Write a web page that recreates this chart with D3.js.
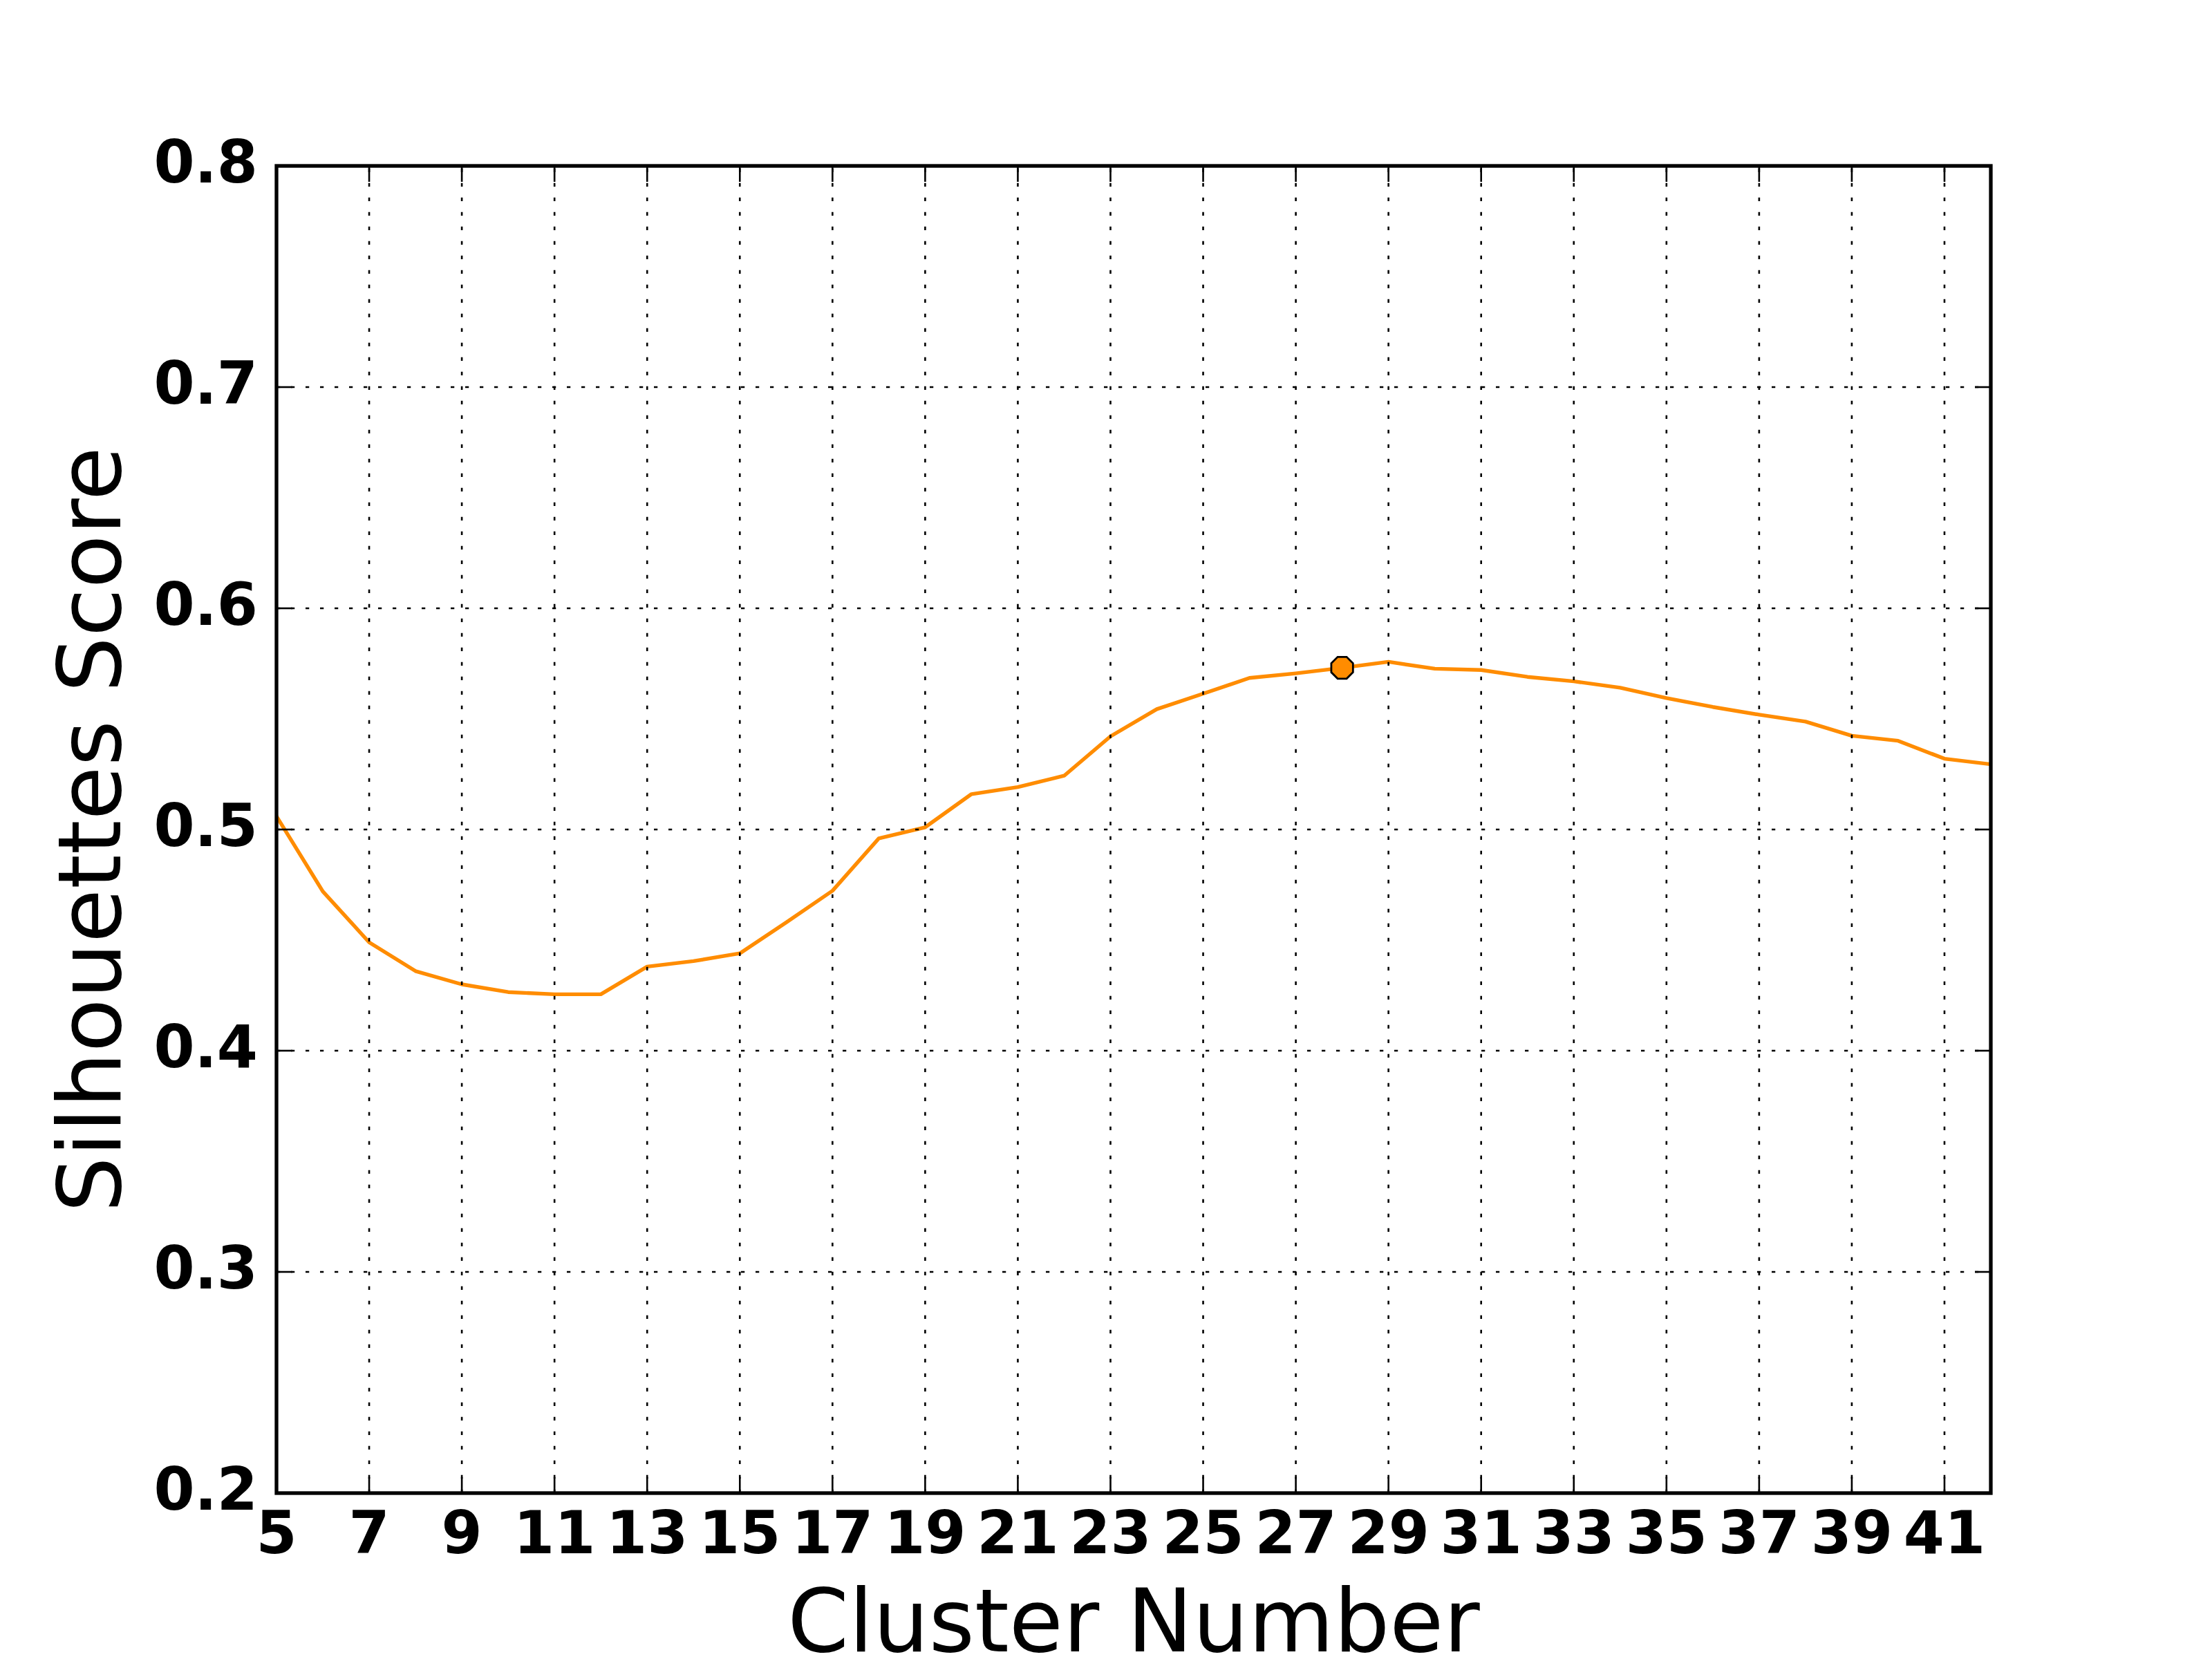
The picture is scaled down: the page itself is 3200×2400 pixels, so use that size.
<!DOCTYPE html>
<html>
<head>
<meta charset="utf-8">
<script src="https://cdn.jsdelivr.net/npm/d3@7"></script>
<style>
  html, body { margin: 0; padding: 0; background: #fff; }
  svg { display: block; }
</style>
</head>
<body>
<svg id="chart" width="3200" height="2400"></svg>
<script>
// ---- data ----
const clusters = [5, 6, 7, 8, 9, 10, 11, 12, 13, 14, 15, 16, 17, 18, 19, 20, 21, 22, 23,
                  24, 25, 26, 27, 28, 29, 30, 31, 32, 33, 34, 35, 36, 37, 38, 39, 40, 41, 42];
const scores = [0.506, 0.472, 0.449, 0.436, 0.430, 0.4265, 0.4255, 0.4255, 0.438, 0.4405,
                0.444, 0.458, 0.4723, 0.496, 0.501, 0.516, 0.5192, 0.5243, 0.5421, 0.5544,
                0.5614, 0.5685, 0.5706, 0.5731, 0.5758, 0.5727, 0.5721, 0.569, 0.567, 0.5641,
                0.5594, 0.5554, 0.5519, 0.5488, 0.5424, 0.5401, 0.532, 0.5295];
const bestCluster = [28];
const bestScore = [0.5731];
const xTicks = [5, 7, 9, 11, 13, 15, 17, 19, 21, 23, 25, 27, 29, 31, 33, 35, 37, 39, 41];
const yTicks = [0.2, 0.3, 0.4, 0.5, 0.6, 0.7, 0.8];
const yTickLabels = ["0.2", "0.3", "0.4", "0.5", "0.6", "0.7", "0.8"];
const xLabel = "Cluster Number";
const yLabel = "Silhouettes Score";

// ---- layout ----
const L = 400, R = 2880, T = 240, B = 2160;
const svg = d3.select("#chart");
svg.append("rect").attr("width", 3200).attr("height", 2400).attr("fill", "#fff");

const x = d3.scaleLinear().domain([5, 42]).range([L, R]);
const y = d3.scaleLinear().domain([0.2, 0.8]).range([B, T]);

svg.append("defs").append("clipPath").attr("id", "clip")
  .append("rect").attr("x", L).attr("y", T).attr("width", R - L).attr("height", B - T);

const font = "'DejaVu Sans', 'Liberation Sans', sans-serif";

// ---- line ----
const line = d3.line().x((d, i) => x(clusters[i])).y(d => y(d));
svg.append("path")
  .datum(scores)
  .attr("clip-path", "url(#clip)")
  .attr("d", line)
  .attr("fill", "none")
  .attr("stroke", "#FF8C00")
  .attr("stroke-width", 5.4)
  .attr("stroke-linejoin", "round")
  .attr("stroke-linecap", "square");

// ---- grid (drawn above line, like matplotlib classic) ----
const grid = svg.append("g").attr("stroke", "#000").attr("stroke-width", 2.6)
  .attr("stroke-dasharray", "5.25,15.75").attr("fill", "none");
grid.selectAll("line.vx").data(xTicks).join("line").attr("class", "vx")
  .attr("x1", d => x(d)).attr("x2", d => x(d)).attr("y1", B).attr("y2", T);
grid.selectAll("line.hy").data(yTicks).join("line").attr("class", "hy")
  .attr("x1", L).attr("x2", R).attr("y1", d => y(d)).attr("y2", d => y(d));

// ---- best marker (octagon) ----
function octagon(cx, cy, r) {
  const pts = d3.range(8).map(k => {
    const a = (22.5 + 45 * k) * Math.PI / 180;
    return [cx + r * Math.cos(a), cy + r * Math.sin(a)];
  });
  return "M" + pts.map(p => p.join(",")).join("L") + "Z";
}
svg.selectAll("path.best").data(bestCluster).join("path").attr("class", "best")
  .attr("d", (d, i) => octagon(x(d), y(bestScore[i]), 17))
  .attr("fill", "#FF8C00").attr("stroke", "#000").attr("stroke-width", 2.8);

// ---- ticks (inward, all four sides) ----
const TL = 23;
const ticks = svg.append("g").attr("stroke", "#000").attr("stroke-width", 2.6);
xTicks.forEach(v => {
  ticks.append("line").attr("x1", x(v)).attr("x2", x(v)).attr("y1", B).attr("y2", B - TL);
  ticks.append("line").attr("x1", x(v)).attr("x2", x(v)).attr("y1", T).attr("y2", T + TL);
});
yTicks.forEach(v => {
  ticks.append("line").attr("x1", L).attr("x2", L + TL).attr("y1", y(v)).attr("y2", y(v));
  ticks.append("line").attr("x1", R).attr("x2", R - TL).attr("y1", y(v)).attr("y2", y(v));
});

// ---- frame ----
svg.append("rect").attr("x", L).attr("y", T).attr("width", R - L).attr("height", B - T)
  .attr("fill", "none").attr("stroke", "#000").attr("stroke-width", 5.3);

// ---- tick labels ----
svg.append("g").selectAll("text").data(xTicks).join("text")
  .attr("x", d => x(d)).attr("y", 2247)
  .attr("text-anchor", "middle")
  .attr("font-family", font).attr("font-weight", "bold").attr("font-size", 85)
  .text(d => String(d));

svg.append("g").selectAll("text").data(yTicks).join("text")
  .attr("x", 373).attr("y", d => y(d) + 24)
  .attr("text-anchor", "end")
  .attr("font-family", font).attr("font-weight", "bold").attr("font-size", 85)
  .text((d, i) => yTickLabels[i]);

// ---- axis labels ----
svg.append("text")
  .attr("x", (L + R) / 2).attr("y", 2389)
  .attr("text-anchor", "middle")
  .attr("font-family", font).attr("font-size", 127)
  .text(xLabel);

svg.append("text")
  .attr("transform", `translate(174, ${(T + B) / 2}) rotate(-90)`)
  .attr("text-anchor", "middle")
  .attr("font-family", font).attr("font-size", 127)
  .text(yLabel);
</script>
</body>
</html>
